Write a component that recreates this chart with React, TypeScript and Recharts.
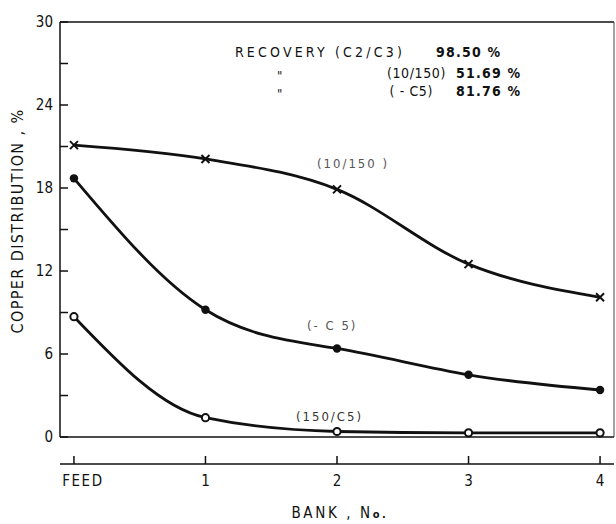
import { LineChart, Line, XAxis, YAxis, ReferenceLine, ReferenceDot } from "recharts";

// bank positions along the flotation circuit
const banks = ["FEED", "1", "2", "3", "4"];

// copper distribution, % for each size fraction
const frac10to150 = [21.1, 20.1, 17.9, 12.5, 10.1];
const fracMinusC5 = [18.7, 9.2, 6.4, 4.5, 3.4];
const frac150toC5 = [8.7, 1.4, 0.4, 0.3, 0.3];

const yMajorTicks = [0, 6, 12, 18, 24, 30];
const yMinorTicks = [3, 9, 15, 21, 27];

const data = banks.map((b, i) => ({
  pos: i,
  bank: b,
  f10: frac10to150[i],
  c5: fracMinusC5[i],
  f150: frac150toC5[i],
}));

const FONT = "'Liberation Sans Narrow', 'DejaVu Sans Condensed', 'Liberation Sans', sans-serif";
const X_MIN = -0.106;
const X_MAX = 4.106;

const YTick = (props: any) => {
  const { x, y, payload } = props;
  const major = payload.value % 6 === 0;
  return (
    <g>
      <line x1={x} x2={x + 8} y1={y} y2={y} stroke="#111" strokeWidth={1.5} />
      {major && (
        <text x={x - 7} y={y + 5} textAnchor="end" fontSize={15} fontFamily={FONT} fill="#111">
          {payload.value}
        </text>
      )}
    </g>
  );
};

const XTick = (props: any) => {
  const { x, y, payload } = props;
  const label = banks[payload.value];
  return (
    <g>
      <line x1={x} x2={x} y1={y - 8} y2={y} stroke="#111" strokeWidth={1.5} />
      <text
        x={x + (payload.value === 0 ? 9 : 0)}
        y={y + 22}
        textAnchor="middle"
        fontSize={15}
        fontFamily={FONT}
        fill="#111"
        letterSpacing={payload.value === 0 ? 1.5 : 0}
      >
        {label}
      </text>
    </g>
  );
};

const CrossDot = (props: any) => {
  const { cx, cy } = props;
  const s = 4;
  return (
    <path
      key={props.key}
      d={`M${cx - s},${cy - s}L${cx + s},${cy + s}M${cx - s},${cy + s}L${cx + s},${cy - s}`}
      stroke="#111"
      strokeWidth={2}
    />
  );
};

const FilledDot = (props: any) => (
  <circle key={props.key} cx={props.cx} cy={props.cy} r={4.2} fill="#111" />
);

const OpenDot = (props: any) => (
  <circle key={props.key} cx={props.cx} cy={props.cy} r={3.6} fill="#fff" stroke="#111" strokeWidth={2} />
);

type NoteStyle = { size?: number; color?: string; spacing?: number; weight?: number; italic?: boolean };

// text pinned to a data position, drawn left-aligned from that point
const note = (key: string, x: number, y: number, text: string, s: NoteStyle = {}) => (
  <ReferenceDot
    key={key}
    x={x}
    y={y}
    r={0}
    fill="none"
    stroke="none"
    ifOverflow="visible"
    label={{
      content: (p: any) => (
        <text
          x={p.viewBox.x}
          y={p.viewBox.y}
          fontSize={s.size ?? 13}
          fontFamily={FONT}
          fill={s.color ?? "#111"}
          fontWeight={s.weight ?? 400}
          fontStyle={s.italic ? "italic" : "normal"}
          letterSpacing={s.spacing ?? 0.6}
        >
          {text}
        </text>
      ),
    }}
  />
);

const valueStyle: NoteStyle = { size: 14, weight: 700, spacing: 1.2 };
const curveStyle: NoteStyle = { size: 13, color: "#555", spacing: 2 };
const dittoStyle: NoteStyle = { size: 13, spacing: 0, italic: true };

export default function App() {
  return (
    <div style={{ position: "absolute", left: 0, top: 0, background: "#fff" }}>
      <LineChart width={616} height={524} data={data} margin={{ top: 22, right: 2, left: 0, bottom: 0 }}>
        <XAxis
          dataKey="pos"
          type="number"
          domain={[X_MIN, X_MAX]}
          ticks={[0, 1, 2, 3, 4]}
          interval={0}
          height={60}
          tickSize={0}
          tickMargin={0}
          tickLine={false}
          axisLine={{ stroke: "#111", strokeWidth: 1.5 }}
          tick={<XTick />}
          label={{
            content: (p: any) => (
              <text
                x={p.viewBox.x + p.viewBox.width / 2 + 3}
                y={p.viewBox.y + 54}
                textAnchor="middle"
                fontSize={15}
                fontFamily={FONT}
                fill="#111"
                letterSpacing={2.6}
              >
                BANK , N<tspan fontSize={11} fontWeight={700}>o.</tspan>
              </text>
            ),
          }}
        />
        <YAxis
          type="number"
          domain={[-1.95, 30]}
          ticks={[...yMajorTicks, ...yMinorTicks].sort((a, b) => a - b)}
          interval={0}
          width={60}
          tickSize={0}
          tickMargin={0}
          tickLine={false}
          axisLine={false}
          tick={<YTick />}
          allowDataOverflow
          label={{
            content: (p: any) => {
              const cx = p.viewBox.x + 18;
              const cy = p.viewBox.y + 199;
              return (
                <text
                  x={cx}
                  y={cy}
                  transform={`rotate(-90 ${cx} ${cy})`}
                  textAnchor="middle"
                  dominantBaseline="middle"
                  fontSize={16}
                  fontFamily={FONT}
                  fill="#111"
                  letterSpacing={1.4}
                >
                  COPPER DISTRIBUTION , %
                </text>
              );
            },
          }}
        />

        {/* frame around the plotting field */}
        <ReferenceLine y={30} stroke="#111" strokeWidth={1.5} ifOverflow="visible" />
        <ReferenceLine y={0} stroke="#111" strokeWidth={1.5} ifOverflow="visible" />
        <ReferenceLine
          segment={[{ x: X_MIN, y: 0 }, { x: X_MIN, y: 30 }]}
          stroke="#111"
          strokeWidth={1.5}
          ifOverflow="visible"
        />
        <ReferenceLine
          segment={[{ x: X_MAX, y: 0 }, { x: X_MAX, y: 30 }]}
          stroke="#444"
          strokeWidth={1}
          ifOverflow="visible"
        />

        <Line
          dataKey="f10"
          type="monotone"
          stroke="#111"
          strokeWidth={2.8}
          dot={CrossDot}
          activeDot={false}
          isAnimationActive={false}
        />
        <Line
          dataKey="c5"
          type="natural"
          stroke="#111"
          strokeWidth={2.8}
          dot={FilledDot}
          activeDot={false}
          isAnimationActive={false}
        />
        <Line
          dataKey="f150"
          type="monotone"
          stroke="#111"
          strokeWidth={2.8}
          dot={OpenDot}
          activeDot={false}
          isAnimationActive={false}
        />

        {note("r1", 1.224, 27.47, "RECOVERY (C2/C3)", { size: 14, spacing: 3.2 })}
        {note("r1v", 2.753, 27.47, "98.50  %", valueStyle)}
        {note("r2q", 1.544, 25.81, "\"", dittoStyle)}
        {note("r2", 2.38, 25.95, "(10/150)", { size: 14, spacing: 0.6 })}
        {note("r2v", 2.905, 25.95, "51.69 %", valueStyle)}
        {note("r3q", 1.544, 24.51, "\"", dittoStyle)}
        {note("r3", 2.4, 24.65, "( -  C5)", { size: 14, spacing: 0.6 })}
        {note("r3v", 2.905, 24.65, "81.76 %", valueStyle)}

        {note("l10", 1.848, 19.45, "(10/150 )", curveStyle)}
        {note("lc5", 1.772, 7.74, "(- C 5)", curveStyle)}
        {note("l150", 1.688, 1.16, "(150/C5)", { ...curveStyle, color: "#333" })}
      </LineChart>
    </div>
  );
}
